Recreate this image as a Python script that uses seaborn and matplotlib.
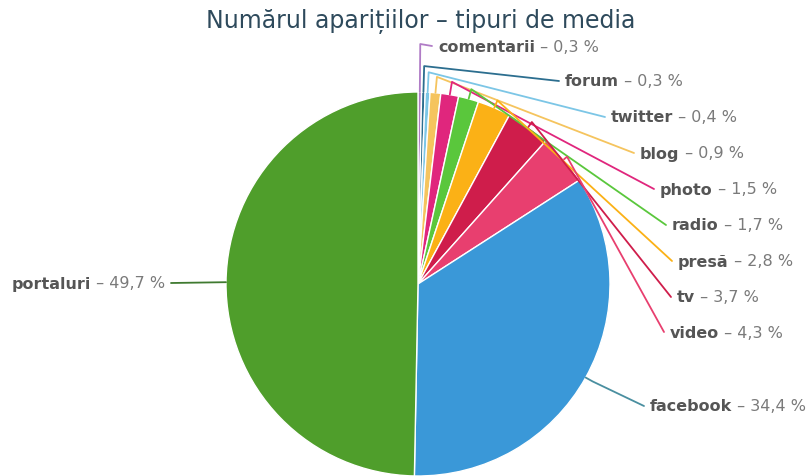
import numpy as np
import matplotlib
matplotlib.use('Agg')
import matplotlib.pyplot as plt
import seaborn as sns

# data (clockwise from 12 o'clock)
categories = ['comentarii', 'forum', 'twitter', 'blog', 'photo', 'radio',
              'presă', 'tv', 'video', 'facebook', 'portaluri']
shares = [0.3, 0.3, 0.4, 0.9, 1.5, 1.7, 2.8, 3.7, 4.3, 34.4, 49.7]
value_labels = ['0,3 %', '0,3 %', '0,4 %', '0,9 %', '1,5 %', '1,7 %',
                '2,8 %', '3,7 %', '4,3 %', '34,4 %', '49,7 %']
colors = ['#b07cc6', '#2c6e8f', '#7cc6e6', '#f5c45e', '#e0267d', '#5ac73c',
          '#fbb116', '#cf1d4b', '#e83f6f', '#3a98d8', '#4f9e2b']
line_colors = colors[:9] + ['#4a8fa0', '#3f7a30']

sns.set_theme(style='white')
plt.rcParams['font.family'] = ['DejaVu Sans']

W, H = 808, 477
fig = plt.figure(figsize=(W / 100, H / 100), dpi=100)
ax = fig.add_axes([0, 0, 1, 1])

cx, cy, r = 418, H - 285, 192
wedges, _ = ax.pie(shares, colors=colors, startangle=90, counterclock=False,
                   center=(cx, cy), radius=r, frame=True,
                   wedgeprops=dict(edgecolor='white', linewidth=1))
ax.set_xlim(0, W)
ax.set_ylim(0, H)
ax.set_aspect('equal')
ax.axis('off')

ax.text(421, H - 21, 'Numărul aparițiilor – tipuri de media', ha='center',
        va='center', fontsize=17, color='#2e4a5c')

# label anchor positions (pixel coords of label start, y from top)
label_pos = [(438, 47), (565, 82), (611, 118), (640, 154), (660, 190),
             (672, 226), (678, 262), (677, 298), (670, 333), (650, 407),
             (165, 284)]
elbow_r = [240, 218, 212, 208, 205, 202, 200, 198, 196, 200, 192]
fs = 11.5

fig.canvas.draw()
renderer = fig.canvas.get_renderer()
inv = ax.transData.inverted()

for w, name, val, col, (lx, ly), er in zip(wedges, categories, value_labels,
                                           line_colors, label_pos, elbow_r):
    ang = np.deg2rad((w.theta1 + w.theta2) / 2)
    ex, ey = cx + r * np.cos(ang), cy + r * np.sin(ang)
    kx, ky = cx + er * np.cos(ang), cy + er * np.sin(ang)
    y = H - ly
    if name == 'portaluri':
        ax.plot([ex, lx + 6], [ey, y], color=col, lw=1.3)
        t2 = ax.text(lx, y, ' – ' + val, ha='right', va='center',
                     fontsize=fs, color='#7a7a7a')
        bb = t2.get_window_extent(renderer)
        x0 = inv.transform((bb.x0, bb.y0))[0]
        ax.text(x0, y, name, ha='right', va='center', fontsize=fs,
                fontweight='bold', color='#555555')
    else:
        ax.plot([ex, kx, lx - 6], [ey, ky, y], color=col, lw=1.3)
        t1 = ax.text(lx, y, name, ha='left', va='center', fontsize=fs,
                     fontweight='bold', color='#555555')
        bb = t1.get_window_extent(renderer)
        x1 = inv.transform((bb.x1, bb.y0))[0]
        ax.text(x1, y, ' – ' + val, ha='left', va='center', fontsize=fs,
                color='#7a7a7a')

fig.savefig('out.png', dpi=100, facecolor='white')
